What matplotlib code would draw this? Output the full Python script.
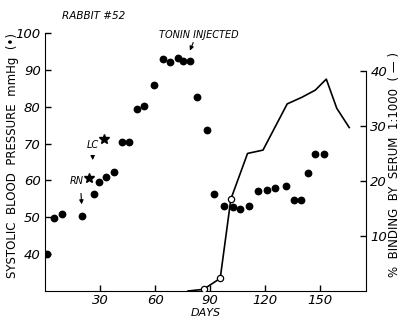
import matplotlib.pyplot as plt

# tension systolique (points noirs), axe de gauche
bp_days = [1, 5, 9.5, 20, 26.5, 29.5, 33, 37.5, 42, 46, 50, 54, 59.6, 64.5, 68.4, 72.4, 75.3, 79,
           82.8, 88.2, 92.2, 97.6, 102.2, 106.4, 111, 116, 121, 125.5, 131.5, 135.5, 139.5, 143.6,
           147, 151.8]
bp_vals = [40, 49.8, 51, 50.3, 56.2, 59.5, 60.8, 62.4, 70.3, 70.3, 79.3, 80.3, 86, 93, 92, 93.3, 92.4,
           92.5, 82.7, 73.7, 56.2, 53.1, 52.9, 52.2, 53, 57.2, 57.4, 58, 58.5, 54.7, 54.7, 61.9,
           67.2, 67.2]

# etoiles RN / LC
star_days = [24, 32]
star_vals = [60.7, 71.2]

# fixation par le serum (ligne), axe de droite
bind_days = [78, 86.4, 95.5, 101.3, 110.4, 118.8, 132, 140, 147.3, 153.3, 159, 165.8]
bind_vals = [0, 0.3, 2.3, 16.7, 25, 25.6, 34, 35.2, 36.5, 38.5, 33.2, 29.7]
open_days = [86.4, 95.5, 101.3]
open_vals = [0.3, 2.3, 16.7]

fig = plt.figure(figsize=(4.05, 3.21), dpi=100)
ax = fig.add_axes([0.111, 0.0935, 0.793, 0.804])
ax2 = ax.twinx()

ax.plot(bp_days, bp_vals, 'o', color='black', markersize=4.6, zorder=3)
ax.plot(star_days, star_vals, '*', color='black', markersize=7, zorder=3)

ax2.plot(bind_days, bind_vals, '-', color='black', linewidth=1.2)
ax2.plot(open_days, open_vals, 'o', mfc='white', mec='black', markersize=4.5, mew=0.9)

ax.set_xlim(0, 175)
ax.set_ylim(30, 100)
ax2.set_ylim(0, 46.9)

ax.set_xticks([30, 60, 90, 120, 150])
ax.set_yticks([40, 50, 60, 70, 80, 90, 100])
ax2.set_yticks([10, 20, 30, 40])

for a in (ax, ax2):
    a.spines['top'].set_visible(False)
    a.tick_params(direction='in', length=4, width=1, labelsize=9.5, pad=3)
    for lab in a.get_xticklabels() + a.get_yticklabels():
        lab.set_style('italic')
ax.spines['right'].set_visible(False)
ax2.spines['left'].set_visible(False)
ax2.spines['bottom'].set_visible(False)
ax2.spines['right'].set_bounds(0, 40)
ax.tick_params(axis='x', pad=2)

ax.set_xlabel('DAYS', fontsize=8, style='italic', labelpad=1)

fig.text(0.03, 0.517, 'SYSTOLIC  BLOOD  PRESSURE  mmHg  (\u2022)', rotation=90,
         ha='center', va='center', fontsize=8.5)
fig.text(0.975, 0.486, '%  BINDING  BY  SERUM  1:1000  ( \u2014 )', rotation=90,
         ha='center', va='center', fontsize=8.5)

fig.text(0.23, 0.95, 'RABBIT #52', ha='center', va='center', fontsize=7.5,
         style='italic')

# annotations
ax.annotate('TONIN INJECTED', xy=(79, 95.2), xytext=(84, 99.5), ha='center', va='center',
            fontsize=7, style='italic',
            arrowprops=dict(arrowstyle='-|>', color='black', lw=0.8, mutation_scale=6,
                            shrinkA=0, shrinkB=0, relpos=(0.44, 0)))
ax.annotate('LC', xy=(26, 65.5), xytext=(26, 69.7), ha='center', va='center', fontsize=7,
            style='italic',
            arrowprops=dict(arrowstyle='-|>', color='black', lw=0.8, mutation_scale=6,
                            shrinkA=3, shrinkB=0))
ax.annotate('RN', xy=(20, 53.5), xytext=(17.5, 59.7), ha='center', va='center', fontsize=7,
            style='italic',
            arrowprops=dict(arrowstyle='-|>', color='black', lw=0.8, mutation_scale=6,
                            shrinkA=3, shrinkB=0, relpos=(0.75, 0)))

fig.savefig('out.png', dpi=100)
